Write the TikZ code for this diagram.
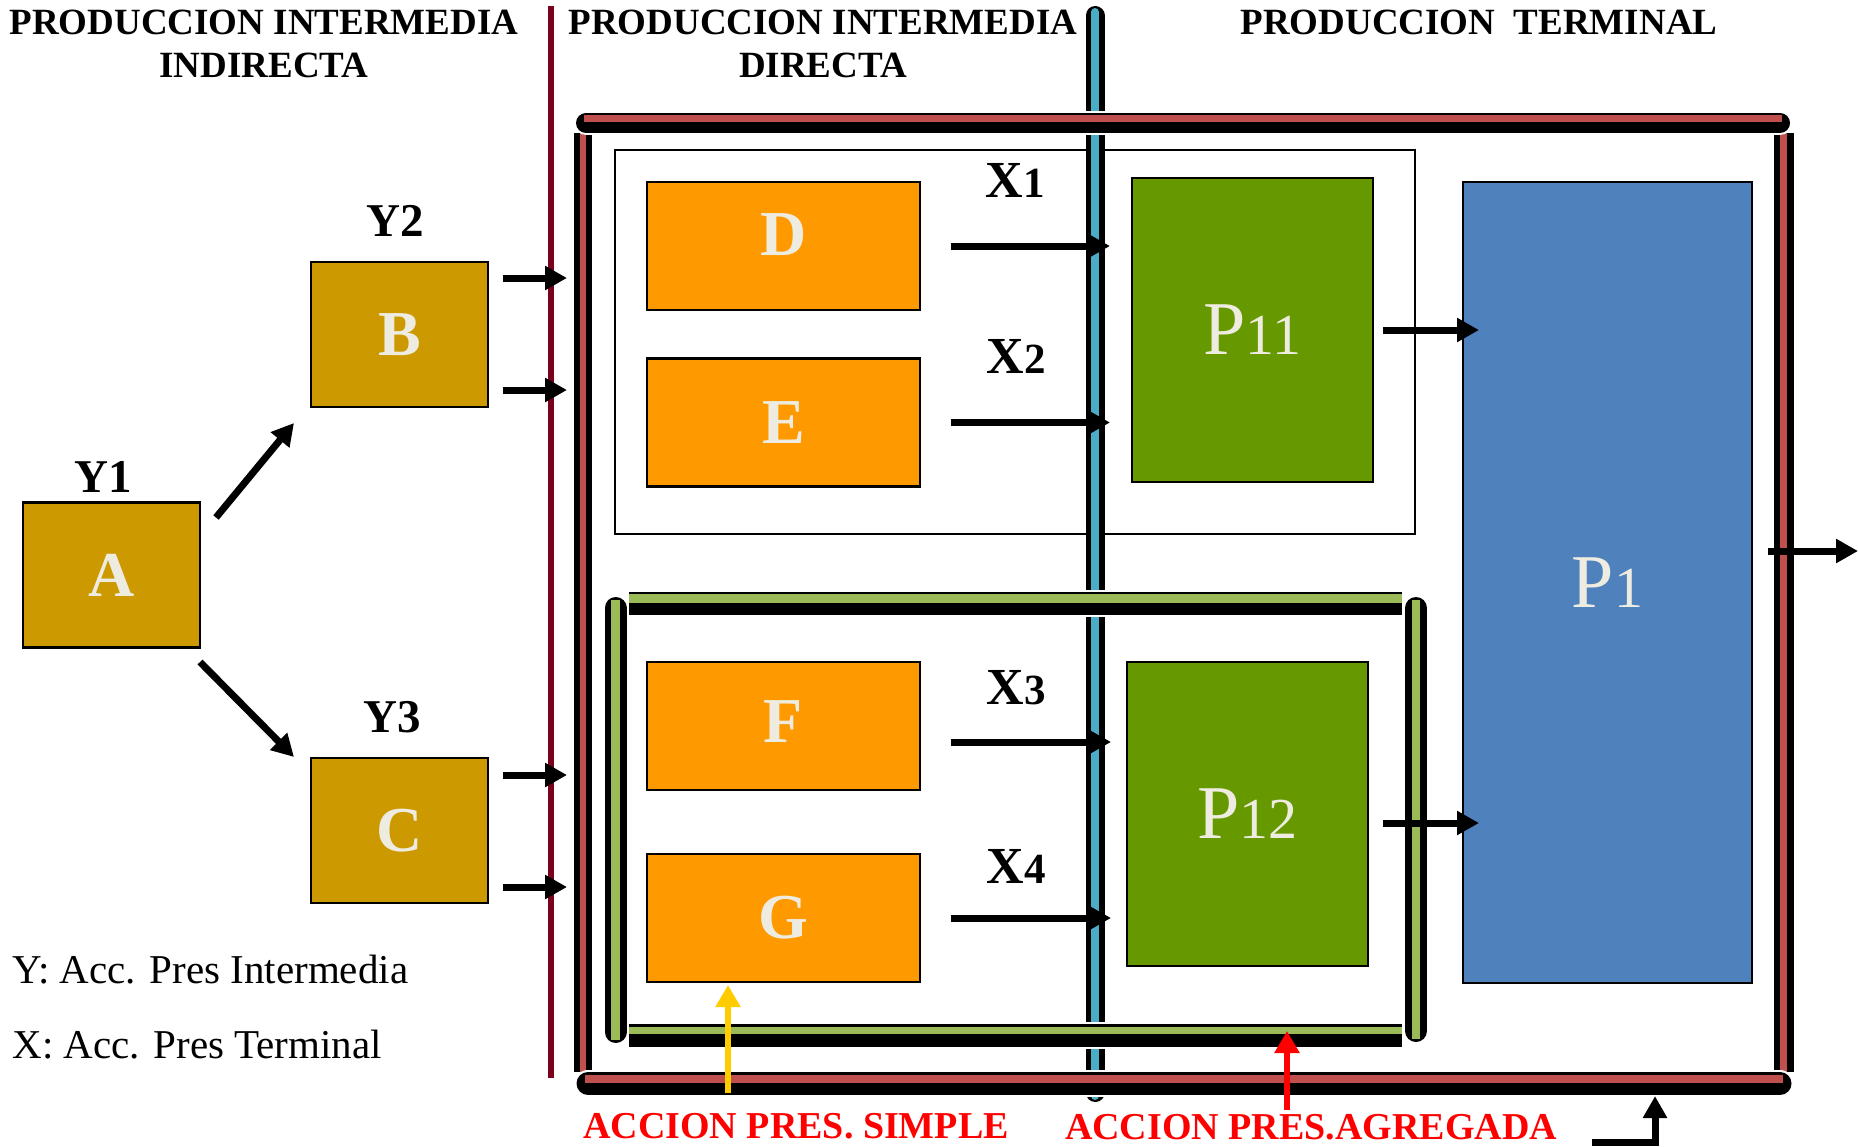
\documentclass[tikz,border=0pt]{standalone}
\usepackage{fontspec}
\setmainfont{Liberation Serif}
\usetikzlibrary{arrows.meta}
\definecolor{darkline}{RGB}{122,0,28}
\definecolor{sepblue}{RGB}{75,172,198}
\definecolor{framered}{RGB}{192,80,77}
\definecolor{bargreen}{RGB}{155,187,89}
\definecolor{boxorange}{RGB}{255,153,0}
\definecolor{boxgreen}{RGB}{102,153,0}
\definecolor{boxblue}{RGB}{79,129,189}
\definecolor{boxgold}{RGB}{204,153,0}
\definecolor{lighttext}{RGB}{238,236,225}
\definecolor{arrowyellow}{RGB}{255,204,0}
\def\fsz#1{\fontsize{#1}{#1}\selectfont}
\tikzset{
	stage/.style={draw=black, line width=1.2pt, inner sep=0pt, outer sep=0pt, text=lighttext, font=\bfseries\fsz{32}},
	goldbox/.style={stage, fill=boxgold, minimum width=88.5pt, minimum height=72.5pt},
	orangebox/.style={stage, fill=boxorange, minimum width=136.5pt, minimum height=64pt},
	greenbox/.style={stage, fill=boxgreen, minimum width=120.5pt, minimum height=152pt, font=\fsz{38}},
	bluebox/.style={stage, fill=boxblue, minimum width=144.5pt, minimum height=400.5pt, font=\fsz{38}},
	head/.style={font=\bfseries\fontsize{18.5}{21.25}\selectfont, align=center},
	ylab/.style={font=\bfseries\fsz{23.5}},
	xlab/.style={font=\bfseries\fsz{26}},
	note/.style={font=\bfseries\fsz{19}, text=red},
	legend/.style={font=\fsz{20.5}, anchor=base west, inner sep=0pt},
	flow/.style={line width=3.5pt, -{Triangle[length=11pt,width=11.5pt]}},
	upflow/.style={line width=3pt, -{Triangle[length=11pt,width=12pt]}}
}

\begin{document}
\begin{tikzpicture}[x=0.5pt, y=-0.5pt]
			%%%%% START %%%%%
			\useasboundingbox (0,0) rectangle (1858,1146);
			
			\node[head] (hind) at (264,43.75) {PRODUCCION INTERMEDIA\\INDIRECTA};
			\node[head] (hdir) at (823,43.75) {PRODUCCION INTERMEDIA\\DIRECTA};
			\node[head] (hter) at (1479,22.5) {PRODUCCION~ TERMINAL};
			
			\draw[line width=3pt, color=darkline] (551,6) -- (551,1078);
			\draw[line width=1pt] (615,150) rectangle (1415,534);
			\draw[line width=9.5pt, line cap=round] (1095,15.5) -- (1095,1092.5);
			\draw[line width=4pt, line cap=round, color=sepblue] (1095,12) -- (1095,1096);
			
			%%%%% outer frame %%%%%
			\draw[line width=9pt] (583,133) -- (583,1072);
			\draw[line width=3pt, color=framered] (583,133) -- (583,1072);
			\draw[line width=10pt] (1783.5,133) -- (1783.5,1072);
			\draw[line width=3.5pt, color=framered] (1783,133) -- (1783,1072);
			\draw[line width=12pt, color=white, line cap=round] (586,123) -- (1780,123);
			\draw[line width=10pt, line cap=round] (586,123) -- (1780,123);
			\draw[line width=3.5pt, color=framered] (584,118) -- (1782,118);
			\draw[line width=13.5pt, color=white, line cap=round] (588,1083.5) -- (1780,1083.5);
			\draw[line width=11.5pt, line cap=round] (588,1083.5) -- (1780,1083.5);
			\draw[line width=4pt, color=framered] (585,1078.5) -- (1783,1078.5);
			
			%%%%% green group %%%%%
			\draw[line width=11pt, line cap=round] (615.5,608) -- (615.5,1032);
			\draw[line width=4.5pt, color=bargreen] (615.5,600) -- (615.5,1040);
			\draw[line width=11pt, line cap=round] (1416,608) -- (1416,1031);
			\draw[line width=4pt, color=bargreen] (1416,600) -- (1416,1039);
			\draw[line width=13.5pt, color=white] (629,603.5) -- (1402,603.5);
			\draw[line width=11.5pt] (629,603.5) -- (1402,603.5);
			\draw[line width=4.5pt, color=bargreen] (629,598.5) -- (1402,598.5);
			\draw[line width=13.5pt, color=white] (629,1035.5) -- (1402,1035.5);
			\draw[line width=11.5pt] (629,1035.5) -- (1402,1035.5);
			\draw[line width=3.5pt, color=bargreen] (629,1030.5) -- (1402,1030.5);
			
			%%%%% boxes %%%%%
			\node[goldbox] (a) at (111.5,575) {A};
			\node[goldbox] (b) at (399.5,334.5) {B};
			\node[goldbox] (c) at (399.5,830.5) {C};
			\node[ylab] (y1) at (103,477) {Y1};
			\node[ylab] (y2) at (395,221) {Y2};
			\node[ylab] (y3) at (392,717) {Y3};
			
			\node[orangebox] (d) at (783.5,246) {\raisebox{11pt}{D}};
			\node[orangebox] (e) at (783.5,422.5) {E};
			\node[orangebox] (f) at (783.5,726) {\raisebox{4pt}{F}};
			\node[orangebox] (g) at (783.5,918) {G};
			\node[xlab] (x1) at (1015,180) {X{\fsz{21.5}1}};
			\node[xlab] (x2) at (1016,356) {X{\fsz{21.5}2}};
			\node[xlab] (x3) at (1016,688) {X{\fsz{21.5}3}};
			\node[xlab] (x4) at (1016,866) {X{\fsz{21.5}4}};
			
			\node[greenbox] (p11) at (1252.5,330) {P{\fsz{29}11}};
			\node[greenbox] (p12) at (1247.5,814) {P{\fsz{29}12}};
			\node[bluebox] (p1) at (1607.5,582.5) {P{\fsz{29}1}};
			
			%%%%% arrows %%%%%
			\draw[flow] ([shift={(16,15)}]a.north east) -- ([shift={(-17,16)}]b.south west);
			\draw[flow] ([shift={(0,14.5)}]a.south east) -- ([shift={(-17,-1)}]c.north west);
			\draw[flow] ([shift={(15,-56.5)}]b.east) -- ++(64,0);
			\draw[flow] ([shift={(15,55.5)}]b.east) -- ++(64,0);
			\draw[flow] ([shift={(15,-55.5)}]c.east) -- ++(64,0);
			\draw[flow] ([shift={(15,56.5)}]c.east) -- ++(64,0);
			
			\coordinate (fx) at ([yshift=-8pt]f.east);
			\coordinate (pq) at ([yshift=-4.5pt]p12.east);
			\draw[flow, shorten <=15.5pt, shorten >=11pt] (d.east) -- (d.east -| p11.west);
			\draw[flow, shorten <=15.5pt, shorten >=11pt] (e.east) -- (e.east -| p11.west);
			\draw[flow, shorten <=15.5pt, shorten >=8pt] (fx) -- (fx -| p12.west);
			\draw[flow, shorten <=15.5pt, shorten >=8pt] (g.east) -- (g.east -| p12.west);
			\draw[flow, shorten <=5pt, shorten >=-8pt] (p11.east) -- (p11.east -| p1.west);
			\draw[flow, shorten <=7.5pt, shorten >=-8pt] (pq) -- (pq -| p1.west);
			
			\coordinate (out) at ([shift={(16,-31.5)}]p1.east);
			\draw[flow] (out) -- ++(90,0);
			\coordinate (back) at (1592,1142);
			\draw[flow] (back) -- ++(63,0) -- ++(0,-46);
			
			\draw[upflow, color=arrowyellow] ([shift={(-55.5,111)}]g.south) -- ([shift={(-55.5,3)}]g.south);
			\coordinate (aggbar) at (1287,1031);
			\draw[upflow, color=red] ([yshift=-39.5pt]aggbar) -- (aggbar);
			
			\node[note] (simple) at (796,1126) {ACCION PRES. SIMPLE};
			\node[note] (agregada) at (1311,1127) {ACCION PRES.AGREGADA};
			
			\node[legend] (ly) at (12,983) {Y: Acc. Pres Intermedia};
			\node[legend] (lx) at (12,1058) {X: Acc. Pres Terminal};
			%%%%% END %%%%%
\end{tikzpicture}
\end{document}
